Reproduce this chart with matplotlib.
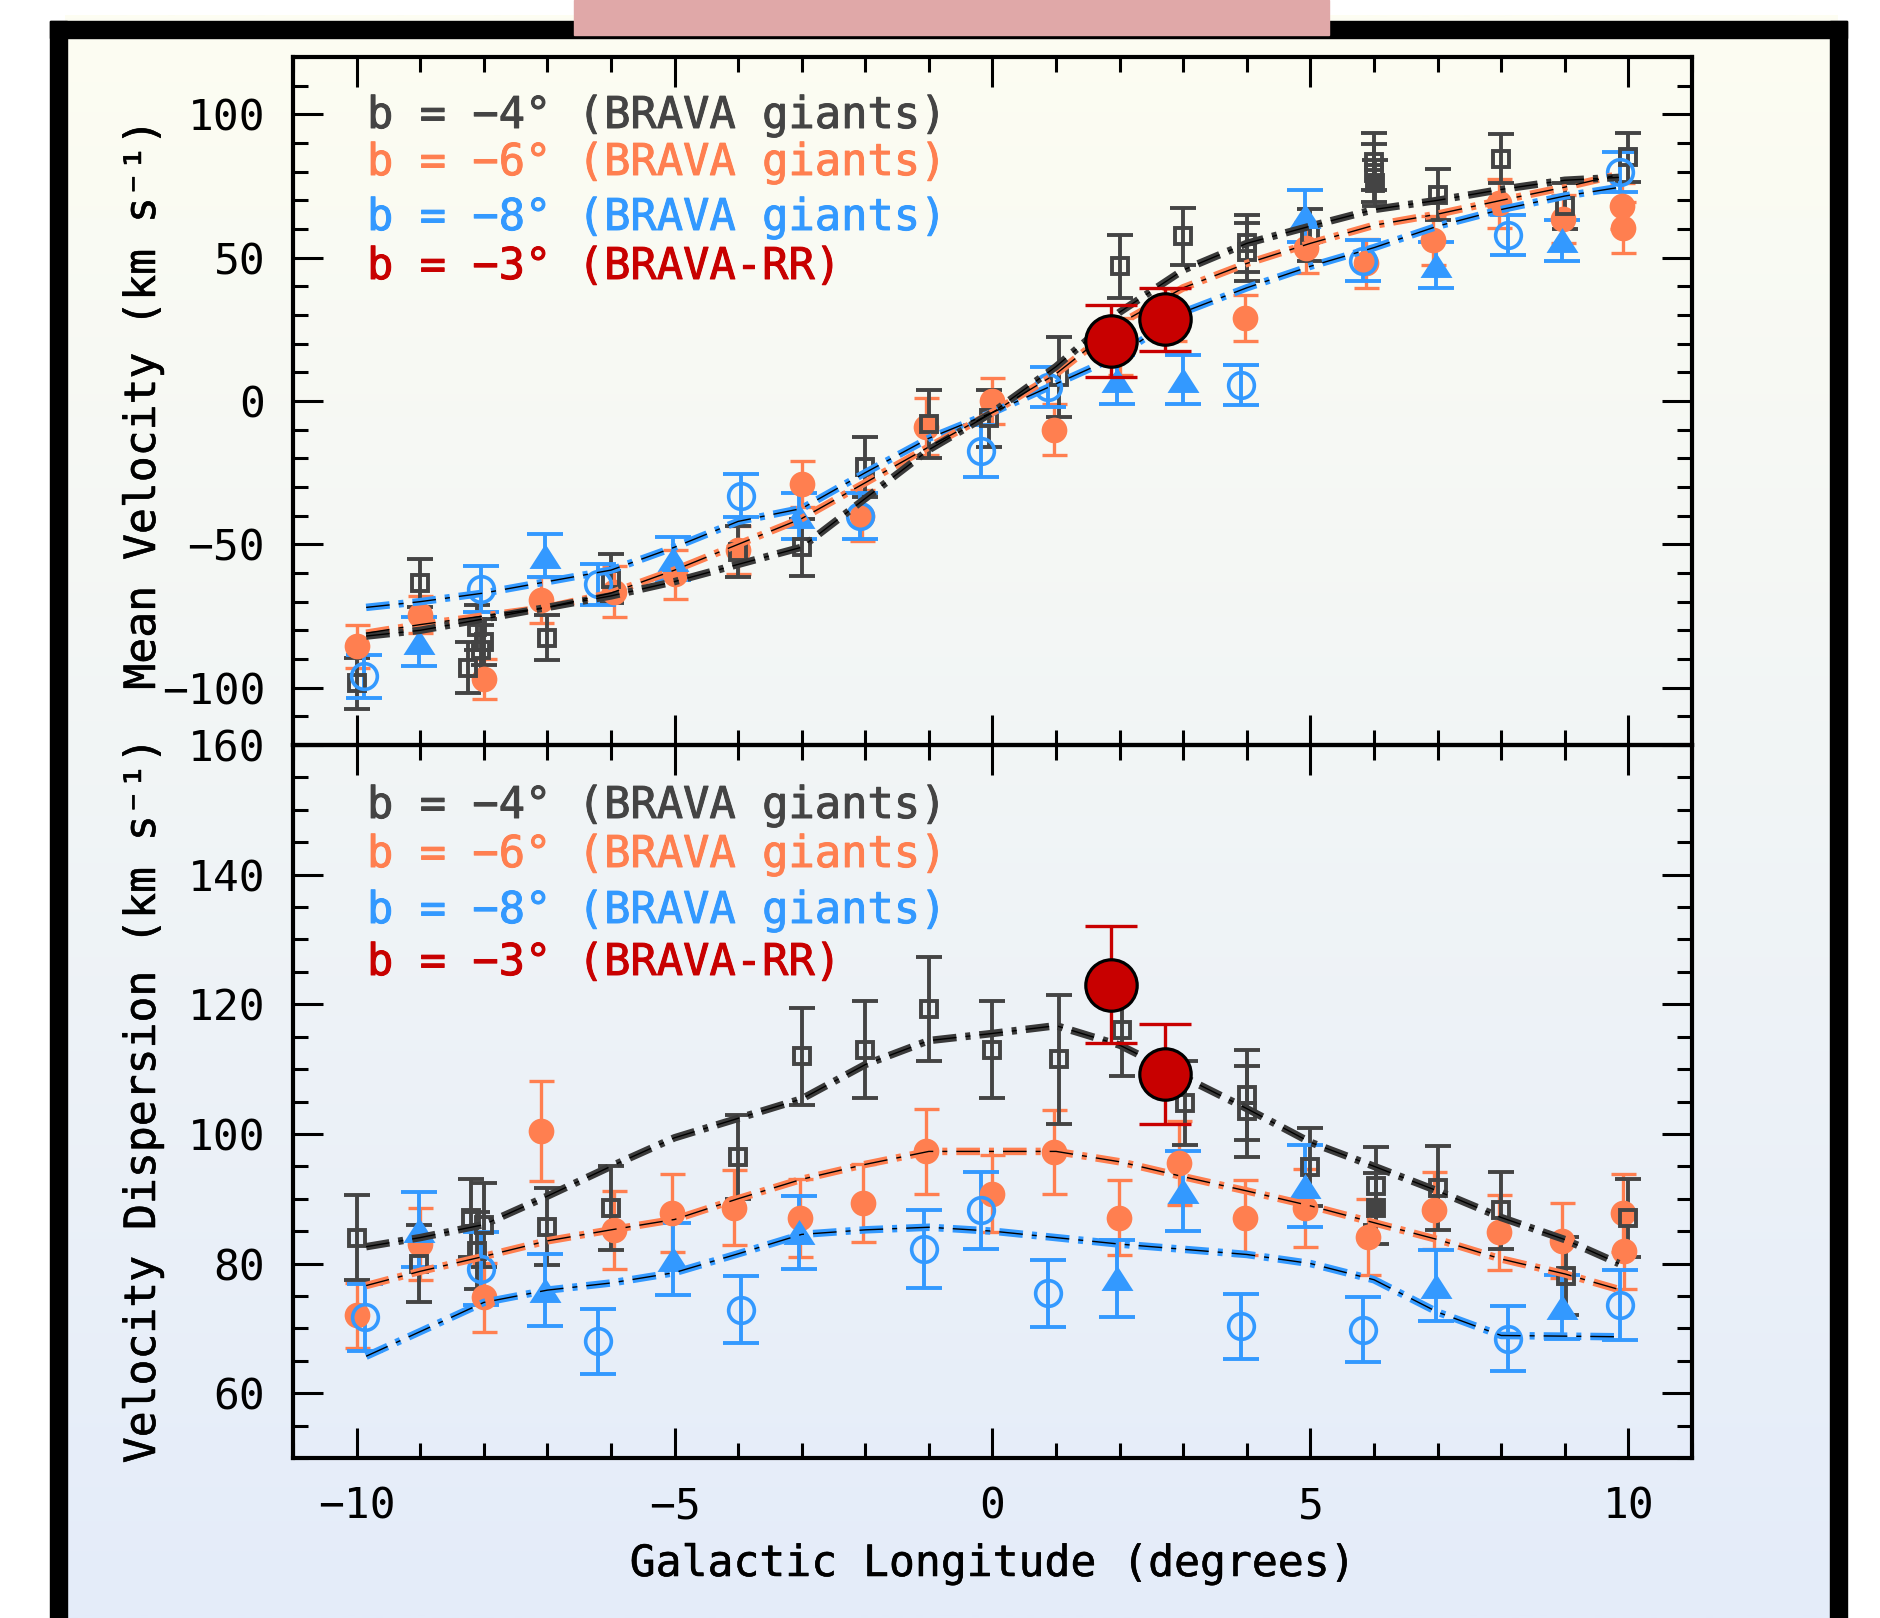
import numpy as np
import matplotlib.pyplot as plt
import matplotlib.patheffects as pe
from matplotlib.path import Path
from matplotlib.patches import Rectangle
from matplotlib.ticker import MultipleLocator

W, H = 1881, 1618

plt.rcParams['font.family'] = ['DejaVu Sans Mono', 'DejaVu Sans']
plt.rcParams['lines.scale_dashes'] = False

GRAY = '#444444'
ORANGE = '#FF7F50'
BLUE = '#3399FF'
RED = '#C80000'

# ---------------- mean velocity (top panel) ----------------
v4_l = [-10, -9.0, -8.25, -8.1, -8.05, -8.0, -7.0, -6.0, -4.0, -3.0, -2.0, -1.0, -0.05,
        1.05, 2.0, 3.0, 4.0, 4.0, 5.0, 6.0, 6.0, 7.0, 8.0, 9.0, 10.0]
v4_v = [-98.5, -63.5, -93, -79, -87, -84, -82.5, -62, -52.5, -51, -23, -8, -6,
        8.5, 47, 57.5, 55, 52, 58, 83.5, 79.5, 72, 84.5, 68, 85]
v4_e = [9, 8.5, 9, 8, 9, 8, 8, 8.5, 9, 10, 10.5, 12, 10,
        14, 11, 10, 10, 10, 9, 10, 10, 9, 8.5, 8, 8.5]
v4f_l = [6.02]
v4f_v = [76]
v4f_e = [8]

v6_l = [-10, -9, -8, -7.1, -5.95, -5.0, -4.0, -3.0, -2.05, -1.05, 0.0, 0.97,
        2.0, 2.85, 3.97, 4.93, 5.88, 6.93, 7.97, 8.97, 9.9, 9.92]
v6_v = [-85.5, -74.5, -97, -69.5, -66.5, -60.5, -52, -29, -40, -9, 0, -10,
        19, 30, 29, 53.5, 48, 56, 69, 63.5, 68, 60.5]
v6_e = [7.5, 6.5, 7, 8, 9, 8.5, 8.5, 8, 9, 10, 8, 9,
        10, 9, 8, 9, 8.5, 8.5, 8.5, 8.5, 8, 9]

v8o_l = [-9.88, -8.05, -6.2, -3.96, -2.08, -0.18, 0.88, 3.9, 5.82, 8.1, 9.87]
v8o_v = [-96, -65.5, -64, -33, -40, -17.5, 5, 5.5, 49, 58, 80]
v8o_e = [7.5, 8, 7, 7.5, 8, 9, 7, 7, 7, 7, 7]

v8t_l = [-9.02, -7.03, -5.03, -3.04, 1.95, 3.0, 4.92, 6.98, 8.96]
v8t_v = [-84, -54, -55, -40, 7.5, 7.5, 64.5, 47.5, 56]
v8t_e = [8.5, 7.5, 7.5, 8, 8.5, 8.5, 9, 8, 7]

v3_l = [1.86, 2.71]
v3_v = [21, 28.5]
v3_e = [12.5, 11]

model_l = [-9.85, -9, -8, -7, -6, -5, -4, -3, -2, -1, 0, 1, 2, 3, 4, 5, 6, 7, 8, 9, 9.85]
mv4 = [-82, -80, -76, -72, -68, -63, -57, -51, -34, -17, -4, 12, 31, 45.7, 55, 61, 66.8, 70, 73.8, 77, 78]
mv6 = [-81, -78, -75, -72, -67, -59, -50, -41, -28.5, -16, -4, 9.5, 27, 39.5, 48, 55, 61.3, 65.2, 70, 74.6, 79]
mv8 = [-72, -70, -67, -63, -59, -51, -42, -37.5, -25, -13, -4, 6, 16, 31, 39.5, 47, 53.5, 61, 66.8, 71.5, 74.5]

# ---------------- velocity dispersion (bottom panel) ----------------
s4_l = [-10, -9.02, -8.2, -8.0, -8.1, -7.0, -6.0, -4.0, -3.0, -2.0, -1.0, 0.0,
        1.05, 2.03, 3.02, 4.0, 4.0, 5.0, 6.03, 7.0, 8.0, 9.02, 10.0]
s4_v = [84, 80, 87, 86, 82, 85.7, 88.6, 96.4, 112, 113, 119.3, 113,
        111.5, 116, 104.8, 106, 103.5, 94.9, 92, 91.6, 88.2, 78.1, 87]
s4_e = [6.5, 6, 6, 6.5, 6, 6, 6.5, 6.5, 7.5, 7.5, 8, 7.5,
        10, 7, 6.5, 7, 7, 6, 6, 6.5, 6, 6, 6]
s4f_l = [6.03]
s4f_v = [88.5]
s4f_e = [5.5]

s6_l = [-10, -9, -8, -7.1, -5.95, -5.04, -4.07, -3.02, -2.04, -1.04, 0.0, 0.96,
        1.99, 2.94, 3.97, 4.92, 5.91, 6.94, 7.97, 8.96, 9.91, 9.93]
s6_v = [72, 83, 74.8, 100.5, 85.2, 87.8, 88.6, 87, 89.3, 97.3, 90.8, 97.2,
        87.1, 95.5, 87.1, 88.6, 84.1, 88.2, 84.8, 83.5, 87.8, 82]
s6_e = [5, 5.5, 5.3, 7.7, 6, 6, 5.8, 6, 6, 6.5, 6, 6.5,
        5.8, 6.5, 5.8, 6, 5.8, 6, 5.8, 5.8, 6, 6]

s8o_l = [-9.86, -8.04, -6.2, -3.96, -1.07, -0.18, 0.88, 3.91, 5.82, 8.1, 9.87]
s8o_v = [71.7, 79.2, 68, 72.9, 82.2, 88.2, 75.4, 70.3, 69.8, 68.4, 73.6]
s8o_e = [5.2, 5.6, 5, 5.2, 6, 6, 5.2, 5, 5, 5, 5.4]

s8t_l = [-9.02, -7.03, -5.03, -3.04, 1.95, 3.0, 4.92, 6.98, 8.96]
s8t_v = [85.2, 75.9, 80.7, 84.8, 77.7, 91.2, 92, 76.6, 73.3]
s8t_e = [5.8, 5.5, 5.5, 5.6, 6, 6.2, 6.3, 5.5, 5]

s3_l = [1.86, 2.71]
s3_v = [123, 109.3]
s3_e = [9, 7.7]

ms4 = [82.6, 84, 86, 90.4, 95, 99.4, 102.4, 105.4, 110.7, 114.4, 115.5, 116.7, 113.7, 108.8, 103.9, 98.7, 95, 91.2, 87.1, 83.7, 80]
ms6 = [76.6, 78.8, 81.1, 83.5, 85.2, 86.8, 90, 93, 95.3, 97.3, 97.3, 97.3, 95.7, 93.4, 91.2, 88.9, 86.3, 83.7, 80.7, 78.4, 76]
ms8 = [65.7, 69.5, 74, 75.9, 77, 78.6, 81.5, 84.5, 85.2, 85.6, 85, 84, 83, 82.2, 81.4, 80, 77.5, 72.5, 68.9, 68.8, 68.7]

labels = ['b = \u22124\u00b0 (BRAVA giants)', 'b = \u22126\u00b0 (BRAVA giants)',
          'b = \u22128\u00b0 (BRAVA giants)', 'b = \u22123\u00b0 (BRAVA-RR)']
label_colors = [GRAY, ORANGE, BLUE, RED]

tri = Path([(0, 0.78), (-1, -0.78), (1, -0.78), (0, 0.78)],
           [Path.MOVETO, Path.LINETO, Path.LINETO, Path.CLOSEPOLY])
DASH = (17, 6.5, 3.6, 6.5)

fig = plt.figure(figsize=(W / 100, H / 100), dpi=100)

# background panel with gradient and black frame
bg = fig.add_axes([0, 0, 1, 1])
t = np.linspace(0, 1, 256)[:, None]
top_c = np.array([253, 253, 242]) / 255
bot_c = np.array([228, 236, 250]) / 255
grad = (top_c * (1 - t) + bot_c * t)[:, None, :]
bg.imshow(grad, extent=[65, 1838, H, 15], aspect='auto', interpolation='bilinear')
bg.add_patch(Rectangle((50, 21), 17, H - 21, color='k'))
bg.add_patch(Rectangle((50, 21), 1797, 17, color='k'))
bg.add_patch(Rectangle((1830, 21), 17, H - 21, color='k'))
bg.add_patch(Rectangle((574, 0), 755, 35, color='#E0A8A8'))
bg.set_xlim(0, W)
bg.set_ylim(H, 0)
bg.axis('off')

ax1 = fig.add_axes([293 / W, 1 - 745 / H, 1399 / W, (745 - 57) / H])
ax2 = fig.add_axes([293 / W, 1 - 1458 / H, 1399 / W, (1458 - 745) / H])


def pts(ax, l, v, e, color, marker, ms, mfc, mew, elw, cap, z=3, mec=None):
    ax.errorbar(l, v, yerr=e, fmt='none', ecolor=color, elinewidth=elw,
                capsize=cap, capthick=elw, zorder=z)
    ax.plot(l, v, ls='none', marker=marker, ms=ms, mfc=mfc,
            mec=mec if mec else color, mew=mew, zorder=z + 0.1)


def model(ax, l, v, color):
    ax.plot(l, v, color=color, lw=5.4, dashes=DASH, zorder=5)
    ax.plot(l, v, color='k', lw=1.0, dashes=DASH, zorder=5.1)


def heavy(c, w=0.5):
    return [pe.withStroke(linewidth=w, foreground=c)]


for ax, d in [(ax1, (v4_l, v4_v, v4_e, v4f_l, v4f_v, v4f_e, v6_l, v6_v, v6_e,
                     v8o_l, v8o_v, v8o_e, v8t_l, v8t_v, v8t_e, v3_l, v3_v, v3_e,
                     mv4, mv6, mv8)),
              (ax2, (s4_l, s4_v, s4_e, s4f_l, s4f_v, s4f_e, s6_l, s6_v, s6_e,
                     s8o_l, s8o_v, s8o_e, s8t_l, s8t_v, s8t_e, s3_l, s3_v, s3_e,
                     ms4, ms6, ms8))]:
    (g_l, g_v, g_e, gf_l, gf_v, gf_e, o_l, o_v, o_e, bo_l, bo_v, bo_e,
     bt_l, bt_v, bt_e, r_l, r_v, r_e, m4, m6, m8) = d
    pts(ax, o_l, o_v, o_e, ORANGE, 'o', 18.5, ORANGE, 0, 2.4, 9)
    pts(ax, g_l, g_v, g_e, GRAY, 's', 12, 'none', 2.8, 2.8, 9.4)
    pts(ax, gf_l, gf_v, gf_e, GRAY, 's', 12, GRAY, 2.8, 2.8, 9.4)
    pts(ax, bo_l, bo_v, bo_e, BLUE, 'o', 18.5, 'none', 2.6, 2.8, 13.3)
    pts(ax, bt_l, bt_v, bt_e, BLUE, tri, 23, BLUE, 0, 2.8, 13.3)
    model(ax, model_l, m8, BLUE)
    model(ax, model_l, m6, ORANGE)
    model(ax, model_l, m4, '#3a3a3a')
    pts(ax, r_l, r_v, r_e, RED, 'o', 37, RED, 2.3, 2.4, 19, z=8, mec='k')

    ax.set_facecolor('none')
    ax.set_xlim(-11, 11)
    ax.xaxis.set_major_locator(MultipleLocator(5))
    ax.xaxis.set_minor_locator(MultipleLocator(1))
    ax.tick_params(which='both', direction='in', top=True, right=True,
                   width=2.2, labelsize=31, pad=20)
    ax.tick_params(which='major', length=21.6)
    ax.tick_params(which='minor', length=10.8)
    for s in ax.spines.values():
        s.set_linewidth(3)

ax1.set_ylim(-120, 120)
ax1.yaxis.set_major_locator(MultipleLocator(50))
ax1.yaxis.set_minor_locator(MultipleLocator(10))
ax1.tick_params(labelbottom=False)

ax2.set_ylim(50, 160)
ax2.yaxis.set_major_locator(MultipleLocator(20))
ax2.yaxis.set_minor_locator(MultipleLocator(5))

# legend-like coloured labels
for base, ys in [(ax1, [128, 175, 230, 279]), (ax2, [818, 867, 923, 975])]:
    for txt, c, y in zip(labels, label_colors, ys):
        fig.text(367 / W, 1 - y / H, txt, color=c, fontsize=31.5, va='baseline',
                 ha='left', path_effects=heavy(c, 0.7))

fig.text(143 / W, 1 - 405 / H, 'Mean Velocity (km s\u207b\u00b9)', rotation=90,
         ha='center', va='center', fontsize=31, path_effects=heavy('k', 0.4))
fig.text(143 / W, 1 - 1101 / H, 'Velocity Dispersion (km s\u207b\u00b9)', rotation=90,
         ha='center', va='center', fontsize=31, path_effects=heavy('k', 0.4))
fig.text(992 / W, 1 - 1564 / H, 'Galactic Longitude (degrees)',
         ha='center', va='center', fontsize=31, path_effects=heavy('k', 0.4))

fig.savefig('out.png', dpi=100)
